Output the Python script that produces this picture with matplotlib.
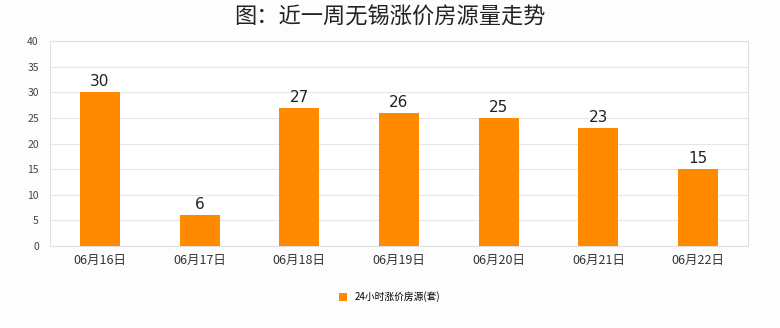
import matplotlib
matplotlib.use("Agg")
import matplotlib.pyplot as plt

plt.rcParams['font.family'] = ['Noto Sans CJK SC', 'DejaVu Sans']

categories = ["06月16日", "06月17日", "06月18日", "06月19日", "06月20日", "06月21日", "06月22日"]
values = [30, 6, 27, 26, 25, 23, 15]
yticks = [0, 5, 10, 15, 20, 25, 30, 35, 40]
series_name = "24小时涨价房源(套)"
title = "图：近一周无锡涨价房源量走势"

bar_color = "#FF8A00"

fig = plt.figure(figsize=(7.8, 3.28), dpi=100, facecolor="#FDFDFD")
ax = fig.add_axes([50/780, 82/328, 698/780, 205/328])
ax.set_facecolor("#FFFFFF")

x = list(range(len(categories)))
bars = ax.bar(x, values, width=0.4, color=bar_color, label=series_name, zorder=3)
for xi, v in zip(x, values):
    ax.text(xi, v + 0.6, str(v), ha="center", va="bottom", fontsize=11, color="#222222",
            family=['DejaVu Sans'])

ax.set_xlim(-0.5, len(categories) - 0.5)
ax.set_ylim(0, 40)
ax.set_yticks(yticks)
ax.set_yticklabels([str(t) for t in yticks], fontsize=7.5, color="#444444")
ax.set_xticks(x)
ax.set_xticklabels(categories, fontsize=9, color="#333333")
ax.tick_params(axis="both", length=0, pad=6)
ax.tick_params(axis="y", pad=8)
ax.grid(axis="y", color="#E6E6E6", linewidth=0.8, zorder=0)
for s in ax.spines.values():
    s.set_color("#E0E0E0")
    s.set_linewidth(0.8)

fig.text(0.5, 1 - 17/328, title, ha="center", va="center", fontsize=16, fontweight="medium", color="#222222")

leg = fig.legend(handles=[bars], labels=[series_name], loc="center", bbox_to_anchor=(0.5, 1 - 297/328),
                 frameon=False, fontsize=7, handlelength=0.8, handleheight=0.8, handletextpad=0.8)

fig.savefig("out.png", dpi=100, facecolor=fig.get_facecolor())
